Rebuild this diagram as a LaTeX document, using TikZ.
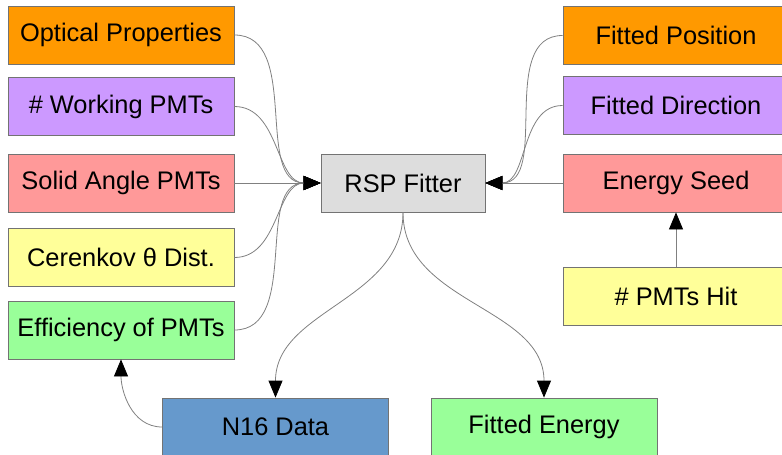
\documentclass[tikz,border=0pt]{standalone}
\usepackage{fontspec}
\setmainfont{Liberation Sans}
\usepackage{xcolor}
\usetikzlibrary{arrows.meta}

\definecolor{boxorange}{HTML}{FF9900}
\definecolor{boxpurple}{HTML}{CC99FF}
\definecolor{boxpink}{HTML}{FF9999}
\definecolor{boxyellow}{HTML}{FFFF99}
\definecolor{boxgreen}{HTML}{99FF99}
\definecolor{boxblue}{HTML}{6699CC}
\definecolor{boxgray}{HTML}{DDDDDD}

\begin{document}
\begin{tikzpicture}[x=1pt, y=-1pt,
  box/.style={draw=black!55, line width=0.8pt, minimum width=226pt, minimum height=58pt,
    inner sep=0pt, font=\fontsize{25.4}{30}\selectfont},
  link/.style={draw=black!50, line width=0.8pt, -{Triangle[length=17pt, width=14pt, black]}}]
  \useasboundingbox (0,0) rectangle (782,455);
  \clip (0,0) rectangle (782,455);

  % Inputs on the left
  \node[box, fill=boxorange] (optics) at (121,35) {Optical Properties};
  \node[box, fill=boxpurple] (working) at (121,106.5) {\# Working PMTs};
  \node[box, fill=boxpink] (solid) at (121,183) {Solid Angle PMTs};
  \node[box, fill=boxyellow] (cerenkov) at (121,257.5) {Cerenkov θ Dist.};
  \node[box, fill=boxgreen] (effic) at (121,330) {Efficiency of PMTs};

  % Fitter
  \node[box, fill=boxgray, minimum width=164pt] (rsp) at (403,183) {RSP Fitter};

  % Outputs and seed on the right
  \node[box, fill=boxorange] (position) at (676,35.5) {Fitted Position};
  \node[box, fill=boxpurple] (direction) at (676,105.5) {Fitted Direction};
  \node[box, fill=boxpink] (seed) at (676,183) {Energy Seed};
  \node[box, fill=boxyellow] (hits) at (676,296) {\# PMTs Hit};

  % Bottom row
  \node[box, fill=boxblue] (nsixteen) at (275.5,427) {N16 Data};
  \node[box, fill=boxgreen] (energy) at (544,427) {Fitted Energy};

  % Into the fitter
  \draw[link] (optics.east) to[out=0, in=180] (rsp.west);
  \draw[link] (working.east) to[out=0, in=180] (rsp.west);
  \draw[link] (solid.east) -- (rsp.west);
  \draw[link] (cerenkov.east) to[out=0, in=180] (rsp.west);
  \draw[link] (effic.east) to[out=0, in=180] (rsp.west);

  \draw[link] (position.west) to[out=180, in=0] (rsp.east);
  \draw[link] (direction.west) to[out=180, in=0] (rsp.east);
  \draw[link] (seed.west) -- (rsp.east);
  \draw[link] (hits.north) -- (seed.south);

  % Out of the fitter
  \draw[link] (rsp.south) to[out=-90, in=90] (nsixteen.north);
  \draw[link] (rsp.south) to[out=-90, in=90] (energy.north);
  \draw[link] (nsixteen.west) to[out=180, in=-90] (effic.south);
\end{tikzpicture}
\end{document}
